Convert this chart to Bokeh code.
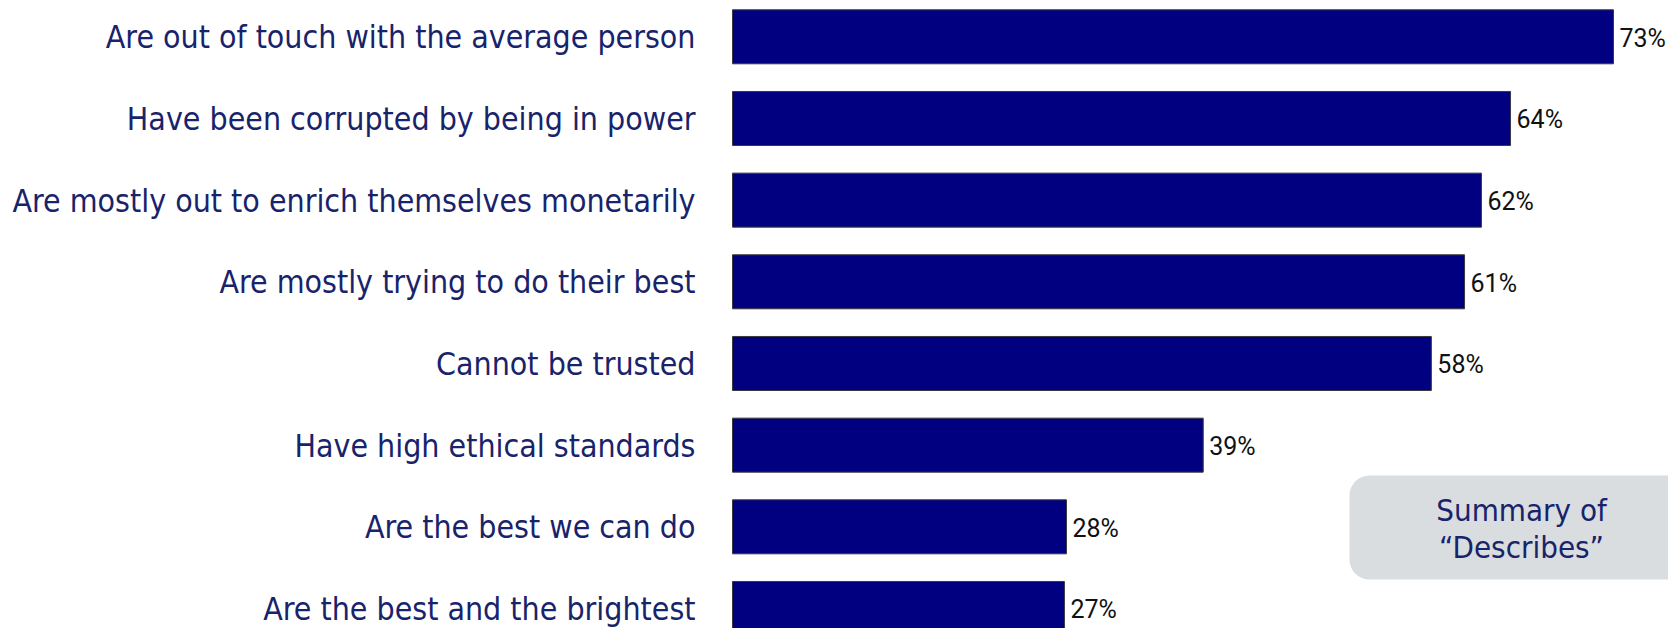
from bokeh.plotting import figure
from bokeh.models import Range1d, ColumnDataSource, BoxAnnotation, Label
from bokeh.core.properties import value
from bokeh.embed import file_html
from bokeh.resources import INLINE

categories = [
    "Are out of touch with the average person",
    "Have been corrupted by being in power",
    "Are mostly out to enrich themselves monetarily",
    "Are mostly trying to do their best",
    "Cannot be trusted",
    "Have high ethical standards",
    "Are the best we can do",
    "Are the best and the brightest",
]
values = [72.99, 64.46, 62.05, 60.65, 57.9, 39.0, 27.67, 27.5]
value_labels = ["73%", "64%", "62%", "61%", "58%", "39%", "28%", "27%"]
positions = list(range(len(categories)))
box_title = ["Summary of", "\u201cDescribes\u201d"]

W, H = 1668, 628
px_per_unit = 12.07
x0_px = 732
row_px = 81.67
row0_px = 36.3

p = figure(
    width=W, height=H, output_backend="svg", toolbar_location=None,
    x_range=Range1d(-x0_px / px_per_unit, (W - x0_px) / px_per_unit),
    y_range=Range1d((H - row0_px) / row_px, -row0_px / row_px),
    x_axis_location=None, y_axis_location=None,
    min_border=0, min_border_left=0, min_border_right=0,
    min_border_top=0, min_border_bottom=0,
)
p.outline_line_color = None
p.grid.visible = False
p.background_fill_color = "white"
p.border_fill_color = "white"

src = ColumnDataSource(dict(y=positions, right=values, cat=categories, lab=value_labels))

p.hbar(y="y", left=0, right="right", height=54 / row_px, source=src,
       fill_color="#000080", line_color="#3a3a3a", line_width=1)

label_font = "DejaVu Sans Condensed"
navy_text = "#18236b"

p.text(x=0, y="y", text="cat", source=src, x_offset=-37, y_offset=0,
       text_align="right", text_baseline="alphabetic",
       text_font=value(label_font), text_font_size="31.8px", text_color=navy_text)

p.text(x="right", y="y", text="lab", source=src, x_offset=6, y_offset=1.5,
       text_align="left", text_baseline="alphabetic",
       text_font=value("Roboto"), text_font_size="25px",
       text_color="#111111")

box = BoxAnnotation(left=(1349 - x0_px) / px_per_unit, right=100,
                    top=(475 - row0_px) / row_px, bottom=(579 - row0_px) / row_px,
                    fill_color="#d9dde0", fill_alpha=1.0, line_color=None,
                    border_radius=20)
p.add_layout(box)

cx = (1521 - x0_px) / px_per_unit
for i, t in enumerate(box_title):
    yb = (509 + 37 * i - row0_px) / row_px
    p.add_layout(Label(x=cx, y=yb, text=t, text_align="center",
                       text_baseline="alphabetic",
                       text_font=label_font, text_font_size="31px",
                       text_color=navy_text))

open("out.html", "w").write(file_html(p, INLINE))
